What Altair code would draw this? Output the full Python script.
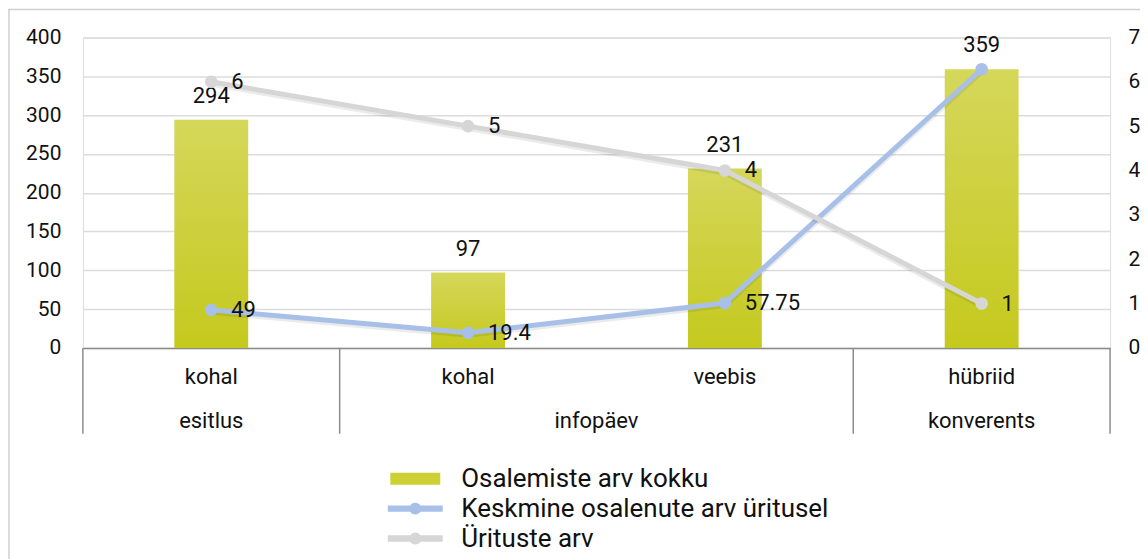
import altair as alt
import pandas as pd

# ---- data ----
subcats = ["kohal", "kohal", "veebis", "hübriid"]
groups = ["esitlus", "infopäev", "infopäev", "konverents"]
osalemised = [294, 97, 231, 359]
keskmine = [49, 19.4, 57.75, 359]
keskmine_label_shown = [True, True, True, False]
yritused = [6, 5, 4, 1]

series_names = ["Osalemiste arv kokku", "Keskmine osalenute arv üritusel", "Ürituste arv"]
left_ticks = [0, 50, 100, 150, 200, 250, 300, 350, 400]
right_ticks = [0, 1, 2, 3, 4, 5, 6, 7]

# ---- styles ----
W, H = 1029, 311
PAD = {"left": 75, "top": 29, "right": 30, "bottom": 230}
FONT = "Roboto"
FS = 21
TXT = "#111111"
BLUE = "#a8c0e8"
GRAY = "#d6d6d6"
BAR_LEG = "#ccd032"
SEP = "#8c8c8c"

n = len(subcats)
df = pd.DataFrame({
    "pos": [i + 0.5 for i in range(n)],
    "sub": subcats,
    "grp": groups,
    "osal": osalemised,
    "kesk": keskmine,
    "show": keskmine_label_shown,
    "yrit": yritused,
})

bounds = [0] + [i for i in range(1, n) if groups[i] != groups[i - 1]] + [n]
sep_df = pd.DataFrame({"b": bounds})

xscale = alt.Scale(domain=[0, n], nice=False, zero=False, padding=0)
xaxis = alt.Axis(labels=False, ticks=False, grid=False, domain=True,
                 domainColor=SEP, domainWidth=1.5, title=None)


def X(field):
    return alt.X(field, scale=xscale, axis=xaxis)


left_scale = alt.Scale(domain=[0, 400], nice=False)
left_axis = alt.Axis(values=left_ticks, orient="left", title=None, domain=False, ticks=False,
                     labelPadding=22, labelFontSize=FS, labelColor=TXT, labelFont=FONT,
                     grid=True, gridColor="#dcdcdc", gridWidth=1.5)
right_scale = alt.Scale(domain=[0, 7], nice=False)
right_axis = alt.Axis(values=right_ticks, orient="right", title=None, domain=False, ticks=False,
                      labelPadding=18, labelFontSize=FS, labelColor=TXT, labelFont=FONT, grid=False)

base = alt.Chart(df)

bar_grad = alt.LinearGradient(
    gradient="linear",
    stops=[alt.GradientStop(color="#d5d75a", offset=0),
           alt.GradientStop(color="#c5c91d", offset=1)],
    x1=0, x2=0, y1=0, y2=1,
)

bars = base.mark_bar(size=74, color=bar_grad).encode(
    x=X("pos:Q"),
    y=alt.Y("osal:Q", scale=left_scale, axis=left_axis),
)
bar_labels = base.mark_text(font=FONT, fontSize=22, color=TXT, baseline="middle", dy=-24).encode(
    x=X("pos:Q"),
    y=alt.Y("osal:Q", scale=left_scale, axis=left_axis),
    text=alt.Text("osal:Q"),
)
blue_shadow = base.mark_line(color="#000000", opacity=0.08, strokeWidth=6, yOffset=2).encode(
    x=X("pos:Q"),
    y=alt.Y("kesk:Q", scale=left_scale, axis=left_axis),
)
blue_line = base.mark_line(color=BLUE, strokeWidth=5,
                           point=alt.OverlayMarkDef(filled=True, color=BLUE, size=160, opacity=1)).encode(
    x=X("pos:Q"),
    y=alt.Y("kesk:Q", scale=left_scale, axis=left_axis),
)
blue_labels = base.transform_filter("datum.show").mark_text(
    font=FONT, fontSize=22, color=TXT, align="left", baseline="middle", dx=20).encode(
    x=X("pos:Q"),
    y=alt.Y("kesk:Q", scale=left_scale, axis=left_axis),
    text=alt.Text("kesk:Q"),
)

gray_shadow = base.mark_line(color="#000000", opacity=0.08, strokeWidth=6, yOffset=2).encode(
    x=X("pos:Q"),
    y=alt.Y("yrit:Q", scale=right_scale, axis=right_axis),
)
gray_line = base.mark_line(color=GRAY, strokeWidth=5,
                           point=alt.OverlayMarkDef(filled=True, color=GRAY, size=160, opacity=1)).encode(
    x=X("pos:Q"),
    y=alt.Y("yrit:Q", scale=right_scale, axis=right_axis),
)
gray_labels = base.mark_text(font=FONT, fontSize=22, color=TXT, align="left", baseline="middle", dx=20).encode(
    x=X("pos:Q"),
    y=alt.Y("yrit:Q", scale=right_scale, axis=right_axis),
    text=alt.Text("yrit:Q"),
)

left = alt.layer(bars, bar_labels, blue_shadow, blue_line, blue_labels)
right = alt.layer(gray_shadow, gray_line, gray_labels)
main = alt.layer(left, right).resolve_scale(y="independent")

# multi-level category axis
separators = alt.Chart(sep_df).mark_rule(color=SEP, strokeWidth=1.5).encode(
    x=X("b:Q"), y=alt.value(H), y2=alt.value(H + 86),
)
lvl1 = base.mark_text(font=FONT, fontSize=22, color=TXT, baseline="middle").encode(
    x=X("pos:Q"), y=alt.value(H + 29), text="sub:N",
)
lvl2 = base.transform_aggregate(center="mean(pos)", groupby=["grp"]).mark_text(
    font=FONT, fontSize=22, color=TXT, baseline="middle").encode(
    x=X("center:Q"), y=alt.value(H + 73), text="grp:N",
)

# outer frame (top and left edges)
one = alt.Chart(pd.DataFrame({"a": [0]}))
frame_top = one.mark_rule(color="#d0d0d0", strokeWidth=1.5).encode(
    x=alt.value(-75), x2=alt.value(W + 40), y=alt.value(-28),
)
frame_left = one.mark_rule(color="#d0d0d0", strokeWidth=1.5).encode(
    x=alt.value(-74), y=alt.value(-28), y2=alt.value(H + 260),
)

# legend (native legend, symbols drawn as custom paths)
paths = [
    "M-4.1667,-1H4.1667V1H-4.1667Z",
    "M-4.583,-0.533H-0.846A1,1,0,0,1,0.846,-0.533H4.583V0.533H0.846A1,1,0,0,1,-0.846,0.533H-4.583Z",
    "M-4.583,-0.533H-0.846A1,1,0,0,1,0.846,-0.533H4.583V0.533H0.846A1,1,0,0,1,-0.846,0.533H-4.583Z",
]
leg = alt.Legend(orient="none", legendX=320, legendY=429, title=None, direction="vertical",
                 labelFont=FONT, labelFontSize=26, labelColor=TXT, labelOffset=33, labelLimit=600,
                 symbolSize=144, symbolStrokeWidth=0, symbolOpacity=1, rowPadding=4,
                 padding=0)
legend_layer = alt.Chart(pd.DataFrame({"series": series_names})).mark_point(
    filled=True, opacity=0).encode(
    x=alt.value(0), y=alt.value(0),
    fill=alt.Fill("series:N", scale=alt.Scale(domain=series_names, range=[BAR_LEG, BLUE, GRAY]), legend=leg),
    shape=alt.Shape("series:N", scale=alt.Scale(domain=series_names, range=paths), legend=leg),
)

chart = alt.layer(frame_top, frame_left, separators, lvl1, lvl2, main, legend_layer).properties(
    width=W, height=H, padding=PAD, autosize=alt.AutoSizeParams(type="none"),
).configure_view(stroke=None).configure(font=FONT)

chart.save("out.html", embed_options={"renderer": "svg", "actions": False})
